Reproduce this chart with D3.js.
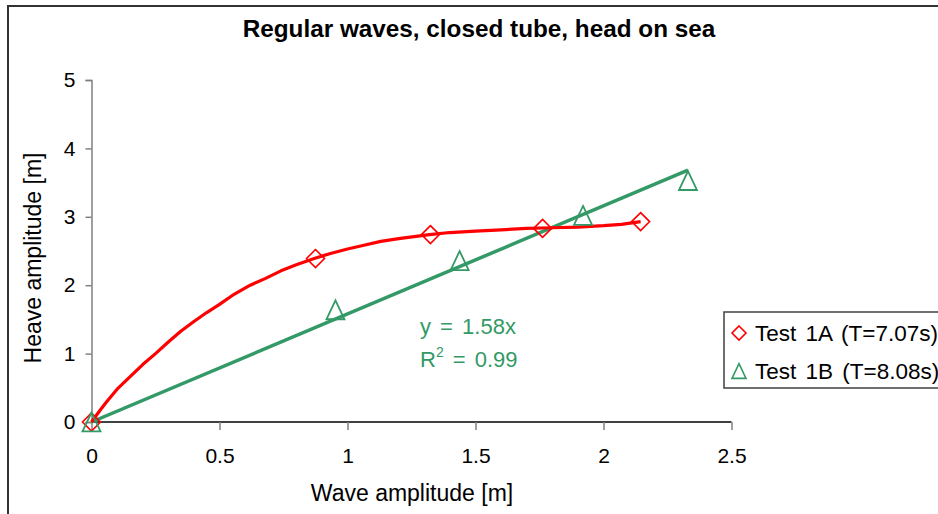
<!DOCTYPE html>
<html>
<head>
<meta charset="utf-8">
<script src="https://cdn.jsdelivr.net/npm/d3@7/dist/d3.min.js"></script>
<style>
  html, body { margin: 0; padding: 0; background: #fff; }
  svg { display: block; font-family: "Liberation Sans", Arial, sans-serif; }
</style>
</head>
<body>
<svg id="chart" width="938" height="514"></svg>
<script>
// Test 1A (T=7.07s): measured points
const test1aX = [0, 0.875, 1.324, 1.762, 2.145];
const test1aY = [0, 2.39, 2.74, 2.83, 2.93];

// Test 1A fitted response curve
const curveX = [0, 0.035, 0.06, 0.1, 0.15, 0.2, 0.25, 0.3, 0.35, 0.4, 0.45, 0.5, 0.55, 0.62, 0.68, 0.74, 0.8, 0.87, 0.93, 1.0, 1.06, 1.13, 1.2, 1.32, 1.4, 1.5, 1.6, 1.7, 1.8, 1.9, 2.0, 2.07, 2.145];
const curveY = [0, 0.18, 0.3, 0.48, 0.66, 0.84, 1.0, 1.17, 1.33, 1.47, 1.6, 1.72, 1.85, 2.0, 2.1, 2.21, 2.3, 2.39, 2.46, 2.53, 2.58, 2.64, 2.68, 2.74, 2.77, 2.79, 2.81, 2.83, 2.84, 2.85, 2.87, 2.89, 2.93];

// Test 1B (T=8.08s): measured points
const test1bX = [0, 0.953, 1.438, 1.92, 2.33];
const test1bY = [0, 1.64, 2.36, 3.02, 3.53];

// Linear trendline through the origin for Test 1B
const trendSlope = 1.58;
const trendR2 = 0.99;

const xTicks = [0, 0.5, 1, 1.5, 2, 2.5];
const yTicks = [0, 1, 2, 3, 4, 5];
const seriesNames = ["Test 1A (T=7.07s)", "Test 1B (T=8.08s)"];

const RED = "#ff0000";
const GREEN = "#339966";

const svg = d3.select("#chart");

// outer chart frame
svg.append("rect")
  .attr("x", 8).attr("y", 6)
  .attr("width", 960).attr("height", 540)
  .attr("fill", "#fff")
  .attr("stroke", "#333").attr("stroke-width", 2);

const x = d3.scaleLinear().domain([0, 2.5]).range([91.5, 731.5]);
const y = d3.scaleLinear().domain([0, 5]).range([422, 80]);

// title
svg.append("text")
  .attr("x", 479).attr("y", 37)
  .attr("text-anchor", "middle")
  .attr("font-size", 24.3).attr("font-weight", "bold")
  .text("Regular waves, closed tube, head on sea");

// y axis
const yAxis = svg.append("g")
  .attr("transform", `translate(${x(0)},0)`)
  .call(d3.axisLeft(y).tickValues(yTicks).tickFormat(d3.format("d")).tickSize(6).tickPadding(10));
yAxis.select(".domain").attr("stroke", "#808080").attr("stroke-width", 1.5);
yAxis.selectAll(".tick line").attr("stroke", "#808080").attr("stroke-width", 1.5);
yAxis.selectAll(".tick text").attr("font-size", 21).attr("fill", "#000")
  .attr("font-family", "Liberation Sans, Arial, sans-serif");

// x axis
const xAxis = svg.append("g")
  .attr("transform", `translate(0,${y(0)})`)
  .call(d3.axisBottom(x).tickValues(xTicks).tickFormat(d => d).tickSize(8).tickPadding(18));
xAxis.select(".domain").attr("stroke", "#000").attr("stroke-width", 1.5)
  .attr("d", `M${x(0)},0H${x(2.5)}`);
xAxis.selectAll(".tick line").attr("stroke", "#808080").attr("stroke-width", 1.5);
xAxis.selectAll(".tick text").attr("font-size", 21).attr("fill", "#000")
  .attr("font-family", "Liberation Sans, Arial, sans-serif");

// axis titles
svg.append("text")
  .attr("x", 412).attr("y", 501)
  .attr("text-anchor", "middle").attr("font-size", 23)
  .text("Wave amplitude [m]");
svg.append("text")
  .attr("transform", `translate(41,258) rotate(-90)`)
  .attr("text-anchor", "middle").attr("font-size", 23)
  .text("Heave amplitude [m]");

// Test 1B trendline
const trendEnd = d3.max(test1bX);
svg.append("line")
  .attr("x1", x(0)).attr("y1", y(0))
  .attr("x2", x(trendEnd)).attr("y2", y(trendSlope * trendEnd))
  .attr("stroke", GREEN).attr("stroke-width", 3.5);

// Test 1A curve
const curve = curveX.map((v, i) => [v, curveY[i]]);
svg.append("path")
  .attr("d", d3.line().x(d => x(d[0])).y(d => y(d[1]))(curve))
  .attr("fill", "none").attr("stroke", RED).attr("stroke-width", 3.2)
  .attr("stroke-linejoin", "round");

// marker shapes
function diamond(r) {
  return `M0,${-r}L${r},0L0,${r}L${-r},0Z`;
}
function triangle(w) {
  const h = w * 1.05;
  return `M0,${-h / 2}L${w / 2},${h / 2}L${-w / 2},${h / 2}Z`;
}

svg.append("g").selectAll("path")
  .data(test1aX.map((v, i) => [v, test1aY[i]]))
  .join("path")
  .attr("transform", d => `translate(${x(d[0])},${y(d[1])})`)
  .attr("d", diamond(9))
  .attr("fill", "none").attr("stroke", RED).attr("stroke-width", 1.6);

svg.append("g").selectAll("path")
  .data(test1bX.map((v, i) => [v, test1bY[i]]))
  .join("path")
  .attr("transform", d => `translate(${x(d[0])},${y(d[1])})`)
  .attr("d", triangle(18))
  .attr("fill", "none").attr("stroke", GREEN).attr("stroke-width", 1.8);

// trendline equation
const eq = svg.append("g").attr("fill", GREEN).attr("font-size", 22);
eq.append("text").attr("x", 420).attr("y", 334)
  .text(`y = ${trendSlope}x`).attr("word-spacing", 3);
const r2 = eq.append("text").attr("x", 420).attr("y", 367).attr("word-spacing", 3);
r2.append("tspan").text("R");
r2.append("tspan").attr("font-size", 14).attr("dy", -10).text("2");
r2.append("tspan").attr("dy", 10).text(` = ${trendR2}`);

// legend
const lg = svg.append("g");
lg.append("rect")
  .attr("x", 724).attr("y", 312).attr("width", 240).attr("height", 76)
  .attr("fill", "#fff").attr("stroke", "#404040").attr("stroke-width", 1.5);
const legendRows = [
  { name: seriesNames[0], color: RED, shape: diamond(7), cy: 333 },
  { name: seriesNames[1], color: GREEN, shape: triangle(14), cy: 371 }
];
legendRows.forEach(r => {
  lg.append("path")
    .attr("transform", `translate(739,${r.cy})`)
    .attr("d", r.shape)
    .attr("fill", "none").attr("stroke", r.color).attr("stroke-width", 1.6);
  lg.append("text")
    .attr("x", 755).attr("y", r.cy + 8)
    .attr("font-size", 22.5).attr("word-spacing", 3)
    .text(r.name);
});
</script>
</body>
</html>
